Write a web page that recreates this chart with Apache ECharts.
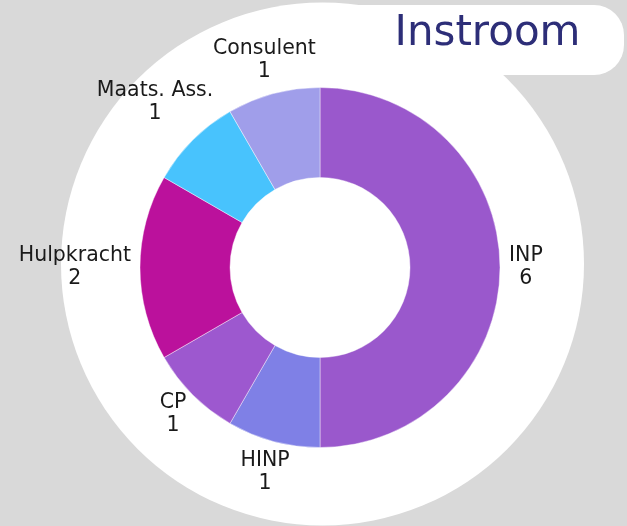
<!DOCTYPE html>
<html>
<head>
<meta charset="utf-8">
<script src="https://cdn.jsdelivr.net/npm/echarts@6/dist/echarts.min.js"></script>
<style>
html,body{margin:0;padding:0;background:#d9d9d9;}
#chart{width:627px;height:526px;}
</style>
</head>
<body>
<div id="chart"></div>
<script>
const categories = ['INP', 'HINP', 'CP', 'Hulpkracht', 'Maats. Ass.', 'Consulent'];
const values = [6, 1, 1, 2, 1, 1];
const sliceColors = ['#9a58cc', '#7f80e6', '#9d58cf', '#bb119c', '#48c3fd', '#a09eea'];
const titleText = 'Instroom';

const FONT = 'DejaVu Sans';
const PIE_CX = 320, PIE_CY = 267.5, R_IN = 90, R_OUT = 180, LABEL_GAP = 9;

const total = values.reduce((a, b) => a + b, 0);
const cum = [];
values.reduce((acc, v, i) => { cum[i] = acc; return acc + v; }, 0);

const chart = echarts.init(document.getElementById('chart'), null, {renderer: 'canvas'});
chart.setOption({
  backgroundColor: '#d9d9d9',
  animation: false,
  graphic: [
    {type: 'circle', z: 0, silent: true, shape: {cx: 322.5, cy: 264, r: 261.5}, style: {fill: '#ffffff'}},
    {type: 'rect', z: 0, silent: true, shape: {x: 330, y: 5, width: 294, height: 70, r: 30}, style: {fill: '#ffffff'}},
    {type: 'text', z: 1, silent: true, style: {
      text: titleText, x: 487.5, y: 34.5,
      align: 'center', verticalAlign: 'middle', textAlign: 'center', textVerticalAlign: 'middle',
      fontSize: 42, fontFamily: FONT, fill: '#2d2e78'
    }}
  ],
  series: [{
    type: 'pie',
    center: [PIE_CX, PIE_CY],
    radius: [R_IN, R_OUT],
    startAngle: 90,
    clockwise: true,
    avoidLabelOverlap: false,
    emphasis: {disabled: true},
    itemStyle: {borderColor: 'rgba(255,255,255,0.7)', borderWidth: 0.6},
    label: {
      show: true,
      position: 'outside',
      formatter: '{b}\n{c}',
      fontFamily: FONT,
      fontSize: 20.5,
      lineHeight: 23,
      color: '#1a1a1a'
    },
    labelLine: {show: false, length: 10, length2: 0},
    labelLayout: function (p) {
      const i = p.dataIndex;
      const frac = (cum[i] + values[i] / 2) / total;
      const theta = Math.PI / 2 - frac * 2 * Math.PI;
      const dx = Math.cos(theta), dy = -Math.sin(theta);
      const w = p.labelRect.width, h = p.labelRect.height;
      const ext = Math.sqrt(Math.pow(dx * w / 2, 2) + Math.pow(dy * h / 2, 2));
      const d = R_OUT + LABEL_GAP + ext;
      return {x: PIE_CX + dx * d, y: PIE_CY + dy * d, align: 'center', verticalAlign: 'middle'};
    },
    data: categories.map((c, i) => ({name: c, value: values[i], itemStyle: {color: sliceColors[i]}}))
  }]
});
</script>
</body>
</html>
